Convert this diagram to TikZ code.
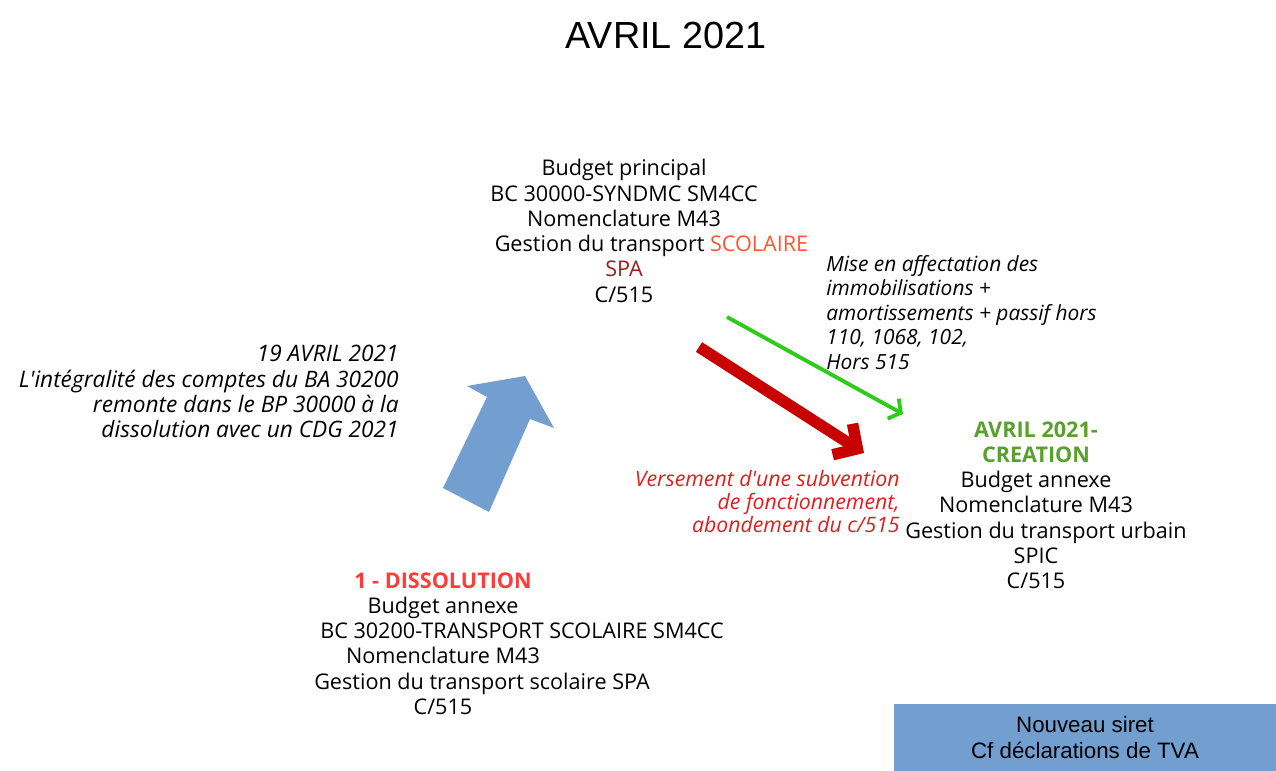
\documentclass[tikz,border=0pt]{standalone}
\usepackage{fontspec}
\setmainfont{Open Sans}
\newfontfamily\arialfont{Liberation Sans}
\usetikzlibrary{arrows.meta, positioning}
\definecolor{stepblue}{HTML}{729FCF}
\definecolor{flowred}{HTML}{C80000}
\definecolor{flowgreen}{HTML}{2ECC1A}
\definecolor{headred}{HTML}{FF3B3B}
\definecolor{headgreen}{HTML}{5AA02C}
\definecolor{spared}{HTML}{A01C1C}
\definecolor{scolred}{HTML}{FF5533}
\definecolor{notered}{HTML}{E01E1E}

\begin{document}
\begin{tikzpicture}[
  x=0.02cm, y=-0.02cm,
  budget/.style={inner sep=0pt, align=center, font=\fontsize{12.3}{14.4}\selectfont},
  note/.style={inner sep=0pt, font=\fontsize{12.9}{14.4}\selectfont\itshape},
  tvabox/.style={rectangle, fill=stepblue, minimum width=7.64cm, minimum height=1.38cm, align=center, font=\arialfont\fontsize{12.7}{14.8}\selectfont},
  greenarrow/.style={-{Straight Barb[length=5pt,width=13pt]}, line width=2.2pt, draw=flowgreen},
  redarrow/.style={-{Straight Barb[length=10pt,width=21pt]}, line width=6.5pt, draw=flowred}
]
  \useasboundingbox (0,0) rectangle (1276,771);

  \node[font=\arialfont\fontsize{21.5}{24}\selectfont] (title) at (666,35) {AVRIL 2021};

  % budgets
  \node[budget, anchor=north] (bp) at (624,159) {Budget principal\\
    BC 30000-SYNDMC SM4CC\\
    Nomenclature M43\\
    \hspace*{1.1cm}Gestion du transport \textcolor{scolred}{SCOLAIRE}\\
    \textcolor{spared}{SPA}\\
    C/515};
  \node[budget, anchor=north] (ba) at (443,572) {\textcolor{headred}{\bfseries 1 - DISSOLUTION}\\
    Budget annexe\\
    \hspace*{3.16cm}BC 30200-TRANSPORT SCOLAIRE SM4CC\\
    Nomenclature M43\\
    \hspace*{1.56cm}Gestion du transport scolaire SPA\\
    C/515};
  \node[budget, anchor=north] (bt) at (1036,421) {\textcolor{headgreen}{\bfseries AVRIL 2021-}\\
    \textcolor{headgreen}{\bfseries CREATION}\\
    Budget annexe\\
    Nomenclature M43\\
    \hspace*{0.4cm}Gestion du transport urbain\\
    SPIC\\
    C/515};

  % notes
  \node[note, anchor=north east, align=right] (dissol) at (399,345) {19 AVRIL 2021\\
    L\textquotesingle intégralité des comptes du BA 30200\\
    remonte dans le BP 30000 à la\\
    dissolution avec un CDG 2021};
  \node[note, anchor=north west, align=left, font=\fontsize{11.9}{13.9}\selectfont\itshape] (affect) at (826,255) {Mise en affectation des\\
    immobilisations +\\
    amortissements + passif hors\\
    110, 1068, 102,\\
    Hors 515};
  \node[note, anchor=north east, align=right, text=notered, font=\fontsize{12.1}{13.2}\selectfont\itshape] (subv) at (900,470) {Versement d\textquotesingle une subvention\\
    de fonctionnement,\\
    abondement du c/515};

  \node[tvabox] (tva) at (1085,738) {Nouveau siret\\Cf déclarations de TVA};

  % arrows
  \fill[stepblue] (443,488) -- (489,512) -- (530,419) -- (554,428) -- (525,376)
    -- (467,386) -- (487,397) -- cycle;
  \coordinate (gs) at (727,317);
  \coordinate (ge) at (903,414);
  \coordinate (rs) at (699,347);
  \coordinate (re) at (864,453);
  \draw[greenarrow] (gs) -- (ge);
  \draw[redarrow] (rs) -- (re);
\end{tikzpicture}
\end{document}
